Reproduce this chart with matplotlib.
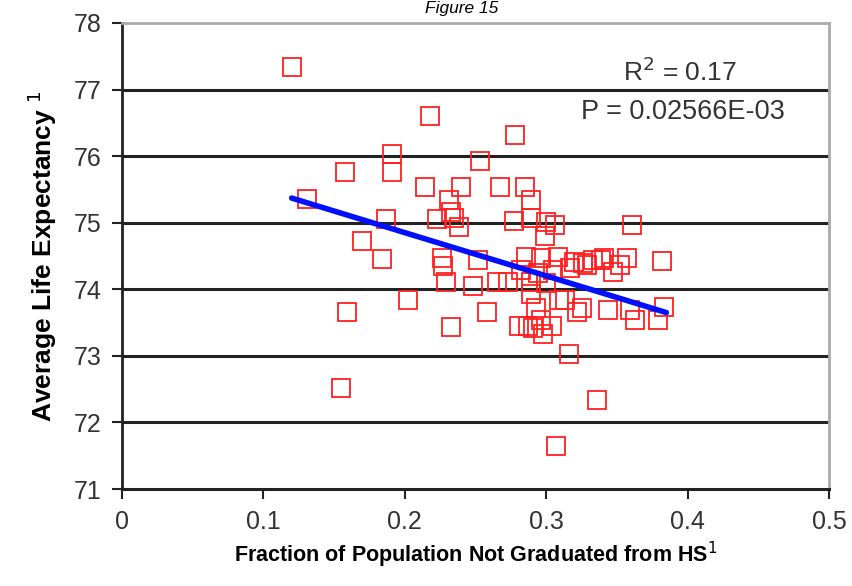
import numpy as np
import matplotlib
matplotlib.use("Agg")
import matplotlib.pyplot as plt

# fraction not graduated from HS vs. average life expectancy
frac_no_hs = [
    0.120, 0.131, 0.158, 0.170, 0.159, 0.155, 0.191, 0.191, 0.187, 0.184,
    0.202, 0.218, 0.214, 0.240, 0.223, 0.231, 0.233, 0.235, 0.226, 0.227,
    0.229, 0.233, 0.253, 0.238, 0.248, 0.252, 0.258, 0.265, 0.267, 0.278,
    0.277, 0.273, 0.285, 0.289, 0.289, 0.286, 0.282, 0.289, 0.289, 0.281,
    0.287, 0.291, 0.296, 0.298, 0.293, 0.296, 0.299, 0.300, 0.306, 0.308,
    0.305, 0.309, 0.304, 0.307, 0.316, 0.317, 0.320, 0.322, 0.325, 0.329,
    0.333, 0.336, 0.341, 0.344, 0.347, 0.361, 0.352, 0.357, 0.359, 0.363,
    0.379, 0.383, 0.382, 0.313, 0.294, 0.300, 0.326, 0.339,
]
life_exp = [
    77.34, 75.36, 75.76, 74.73, 73.66, 72.51, 76.03, 75.76, 75.06, 74.46,
    73.84, 76.61, 75.54, 75.54, 75.06, 75.34, 75.16, 75.07, 74.47, 74.35,
    74.11, 73.43, 75.92, 74.94, 74.05, 74.44, 73.66, 74.11, 75.54, 76.31,
    75.03, 74.11, 75.54, 75.34, 75.07, 74.49, 74.29, 74.11, 73.93, 73.45,
    73.45, 73.42, 73.54, 73.33, 73.72, 74.47, 74.80, 75.01, 74.96, 74.49,
    74.29, 73.84, 73.45, 71.65, 73.03, 74.32, 74.41, 73.66, 73.72, 74.37,
    74.44, 72.33, 74.47, 73.69, 74.26, 74.97, 74.37, 74.47, 73.69, 73.54,
    73.54, 73.74, 74.43, 73.84, 74.24, 74.10, 74.40, 74.44,
]

# trend line end points
fit_x = [0.12, 0.385]
fit_y = [75.37, 73.65]

r2_text = "R$^2$ = 0.17"
p_text = "P = 0.02566E-03"

plt.rcParams['font.family'] = ['Liberation Sans', 'DejaVu Sans']

fig = plt.figure(figsize=(8.52, 5.86), dpi=100)
ax = fig.add_axes([0.1432, 0.1655, 0.8298, 0.7953])

for yv in range(72, 78):
    ax.axhline(yv, color='#222222', lw=2.2, zorder=1)

ax.plot(frac_no_hs, life_exp, linestyle='none', marker='s', ms=13,
        mfc='none', mec='#ff2020', mew=1.3, zorder=3)
ax.plot(fit_x, fit_y, color='#0010ff', lw=4, solid_capstyle='round', zorder=4)

ax.set_xlim(0, 0.5)
ax.set_ylim(71, 78)
ax.set_xticks([0, 0.1, 0.2, 0.3, 0.4, 0.5])
ax.set_xticklabels(['0', '0.1', '0.2', '0.3', '0.4', '0.5'])
ax.set_yticks(range(71, 79))

ax.spines['left'].set_color('#222222')
ax.spines['left'].set_linewidth(2)
ax.spines['bottom'].set_color('#222222')
ax.spines['bottom'].set_linewidth(2.2)
ax.spines['top'].set_color('#aaaaaa')
ax.spines['top'].set_linewidth(2)
ax.spines['right'].set_color('#aaaaaa')
ax.spines['right'].set_linewidth(2)
ax.tick_params(axis='both', direction='out', length=7, width=1.5,
               color='#222222', labelsize=18, labelcolor='#333333', pad=8)

ax.set_xlabel("Fraction of Population Not Graduated from HS$^1$",
              fontsize=15.5, fontweight='bold', labelpad=4)
ax.set_ylabel("Average Life Expectancy $^1$", fontsize=19,
              fontweight='bold', labelpad=10)

ax.text(0.789, 0.895, r2_text, transform=ax.transAxes, ha='center',
        va='center', fontsize=19, color='#333333')
ax.text(0.793, 0.81, p_text, transform=ax.transAxes, ha='center',
        va='center', fontsize=19.5, color='#333333')

fig.text(0.542, 0.998, "Figure 15", ha='center', va='top',
         fontsize=12.5, style='italic')

fig.savefig("out.png", dpi=100)
